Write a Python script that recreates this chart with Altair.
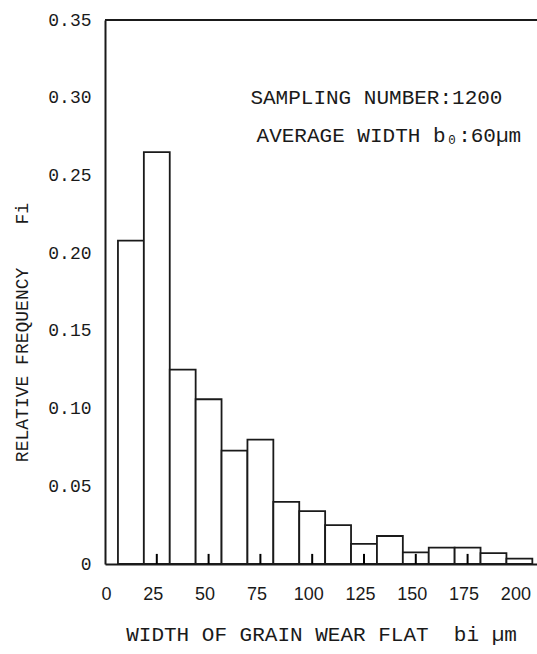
import altair as alt
import pandas as pd

# bin centres (µm) and relative frequencies
bin_centers = [12.5, 25, 37.5, 50, 62.5, 75, 87.5, 100, 112.5, 125, 137.5, 150, 162.5, 175, 187.5, 200]
rel_freq = [0.208, 0.265, 0.125, 0.106, 0.073, 0.080, 0.040, 0.034, 0.025, 0.013, 0.018, 0.0075, 0.0105, 0.0105, 0.007, 0.0035]
bin_width = 12.5
x_ticks = [0, 25, 50, 75, 100, 125, 150, 175, 200]
inner_ticks = [25, 50, 75, 100, 125, 150, 175]
y_ticks = [0, 0.05, 0.10, 0.15, 0.20, 0.25, 0.30, 0.35]
annot_lines = ["SAMPLING NUMBER:1200", "AVERAGE WIDTH b\u2080:60\u00b5m"]
annot_x = [131, 137]
annot_y = [0.300, 0.2755]

NB = "\u00a0"
x_title = "WIDTH OF GRAIN WEAR FLAT" + NB * 2 + "bi" + NB + "\u00b5m"
y_title = "RELATIVE FREQUENCY" + NB * 4 + "Fi"

W, H = 432, 544
XDOM = [0, 208.5]
YDOM = [0, 0.35]
TICK_LEN = 0.0065  # in data units (~10 px)
MONO = "Liberation Mono"
SANS = "Liberation Sans"
INK = "#1a1a1a"

df = pd.DataFrame({"c": bin_centers, "f": rel_freq})
xs = alt.Scale(domain=XDOM, nice=False, zero=False)
ys = alt.Scale(domain=YDOM, nice=False)

bars = alt.Chart(df).transform_calculate(
    x0=f"datum.c - {bin_width}/2", x1=f"datum.c + {bin_width}/2"
).mark_bar(fill="white", stroke=INK, strokeWidth=1.8).encode(
    x=alt.X("x0:Q", scale=xs, axis=alt.Axis(
        values=x_ticks, tickSize=0, domainColor=INK, domainWidth=2, grid=False,
        labelFont=SANS, labelFontSize=18, labelColor=INK, labelPadding=21, labelOffset=-4,
        title=x_title, titleFont=MONO, titleFontSize=21,
        titleFontWeight="normal", titleColor=INK, titleY=70, titleBaseline="middle")),
    x2="x1:Q",
    y=alt.Y("f:Q", scale=ys, axis=alt.Axis(
        values=y_ticks, tickSize=0, domainColor=INK, domainWidth=2, grid=False,
        labelExpr="datum.value == 0 ? '0' : format(datum.value, '.2f')",
        labelFont=MONO, labelFontSize=18, labelColor=INK, labelPadding=14,
        title=y_title, titleFont=MONO, titleFontSize=18,
        titleFontWeight="normal", titleColor=INK, titleX=-83, titleY=312,
        titleBaseline="middle")),
    y2=alt.datum(0),
)

ticks = alt.Chart(pd.DataFrame({"t": inner_ticks})).transform_calculate(
    y0="0", y1=str(TICK_LEN)
).mark_rule(color="#000000", strokeWidth=2).encode(
    x=alt.X("t:Q", scale=xs), y=alt.Y("y0:Q", scale=ys), y2="y1:Q"
)

top_line = alt.Chart(pd.DataFrame({"a": [0]})).mark_rule(color=INK, strokeWidth=2).encode(
    x=alt.value(0), x2=alt.value(W), y=alt.value(0)
)

annot = alt.Chart(pd.DataFrame({"s": annot_lines, "x": annot_x, "y": annot_y})).mark_text(
    font=MONO, fontSize=21, color=INK, align="center", baseline="middle"
).encode(
    x=alt.X("x:Q", scale=xs), y=alt.Y("y:Q", scale=ys), text="s:N"
)

chart = alt.layer(bars, ticks, top_line, annot).properties(
    width=W, height=H,
    autosize=alt.AutoSizeParams(type="none"),
    padding={"left": 105, "top": 20, "right": 0, "bottom": 90},
).configure_view(stroke=None).configure(background="white")

chart.save("out.html", embed_options={"renderer": "svg", "actions": False})
